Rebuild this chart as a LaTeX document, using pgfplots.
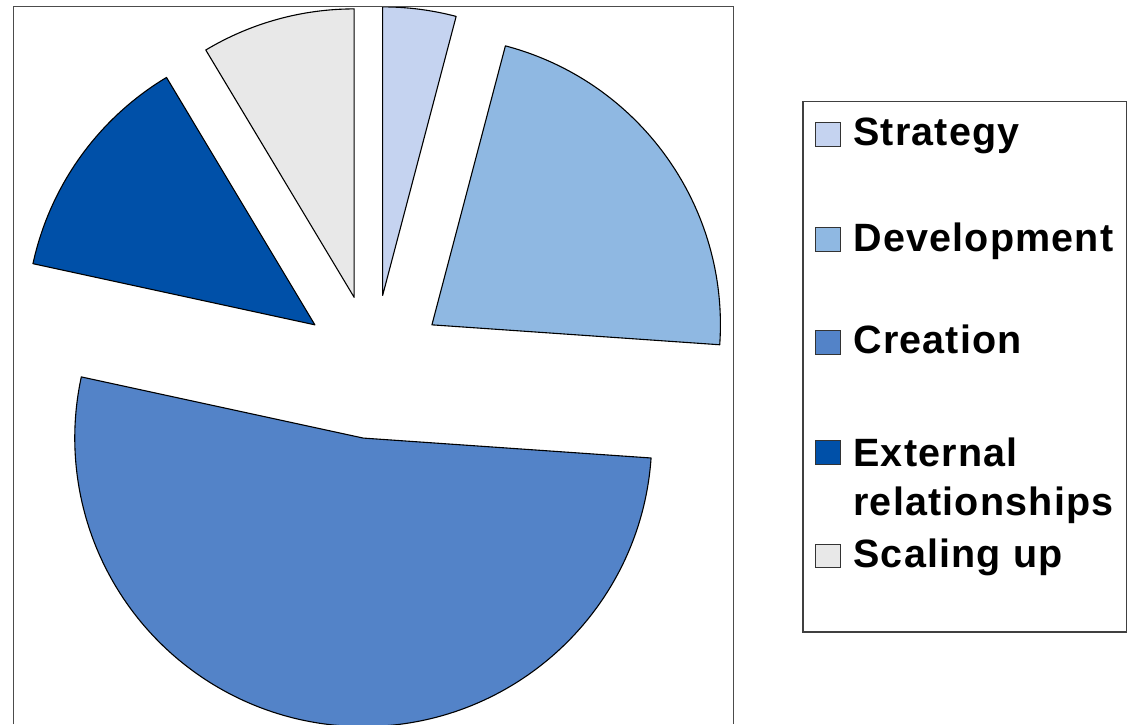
\documentclass[border=0pt]{standalone}
\usepackage{fontspec}
\newfontfamily\legfont{Liberation Sans}[LetterSpace=3]
\usepackage{pgfplots}
\usepackage{pgfplotstable}
\pgfplotsset{compat=1.18}
\definecolor{cStrat}{HTML}{C5D3F0}
\definecolor{cDev}{HTML}{8FB8E2}
\definecolor{cCre}{HTML}{5383C8}
\definecolor{cExt}{HTML}{0050A8}
\definecolor{cScale}{HTML}{E8E8E8}

\pgfplotstableread{
label value
Strategy 4.1
Development 22.0
Creation 52.3
External 13.0
Scaling 8.6
}\piedata

\def\curang{90}
% #1 = row of the table, #2 = colour
\newcommand{\pieslice}[2]{%
  \pgfplotstablegetelem{#1}{value}\of\piedata
  \pgfmathsetmacro{\sa}{\curang}%
  \pgfmathsetmacro{\ea}{\curang-3.6*\pgfplotsretval}%
  \pgfmathsetmacro{\ma}{(\sa+\ea)/2}%
  \edef\tmp{\noexpand\filldraw[fill=#2,draw=black,line width=0.55pt,line join=round,shift={(axis cs:373.4,357.2)}] (\ma:36pt) -- ++(\sa:144.25pt) arc[start angle=\sa,end angle=\ea,radius=144.25pt] -- cycle;}%
  \tmp
  \global\let\curang\ea}

\tikzset{legtext/.style={anchor=base west,inner sep=0pt,font=\legfont\bfseries\fontsize{19.75}{22}\selectfont}}

\begin{document}
\begin{tikzpicture}
\begin{axis}[x=0.5pt,y=0.5pt,xmin=0,xmax=1133,ymin=0,ymax=724,hide axis,clip=false]
\path (axis cs:0,0) rectangle (axis cs:1133,724);
\begin{scope}[overlay]
\clip (axis cs:13.5,0) rectangle (axis cs:733.5,717.5);
\pieslice{0}{cStrat}
\pieslice{1}{cDev}
\pieslice{2}{cCre}
\pieslice{3}{cExt}
\pieslice{4}{cScale}
\end{scope}
% plot area frame
\draw[black!70,line width=0.55pt] (axis cs:13.5,0) -- (axis cs:13.5,717.5) -- (axis cs:733.5,717.5) -- (axis cs:733.5,0);
% legend
\draw[black!75,line width=0.55pt,fill=white] (axis cs:803,92) rectangle (axis cs:1126.5,622.5);
\filldraw[fill=cStrat,draw=black!80,line width=0.5pt] (axis cs:815,577.5) rectangle (axis cs:840,601);
\filldraw[fill=cDev,draw=black!80,line width=0.5pt] (axis cs:815,472.5) rectangle (axis cs:840,496);
\filldraw[fill=cCre,draw=black!80,line width=0.5pt] (axis cs:815,369.5) rectangle (axis cs:840,393);
\filldraw[fill=cExt,draw=black!80,line width=0.5pt] (axis cs:815,259.5) rectangle (axis cs:840,283);
\filldraw[fill=cScale,draw=black!80,line width=0.5pt] (axis cs:815,156) rectangle (axis cs:840,179.5);
\node[legtext] at (axis cs:853,578) {Strategy};
\node[legtext] at (axis cs:853,472.3) {Development};
\node[legtext] at (axis cs:853,370.5) {Creation};
\node[legtext] at (axis cs:853,257.3) {External};
\node[legtext] at (axis cs:853,208.8) {relationships};
\node[legtext] at (axis cs:853,156.5) {Scaling up};
\end{axis}
\end{tikzpicture}
\end{document}
